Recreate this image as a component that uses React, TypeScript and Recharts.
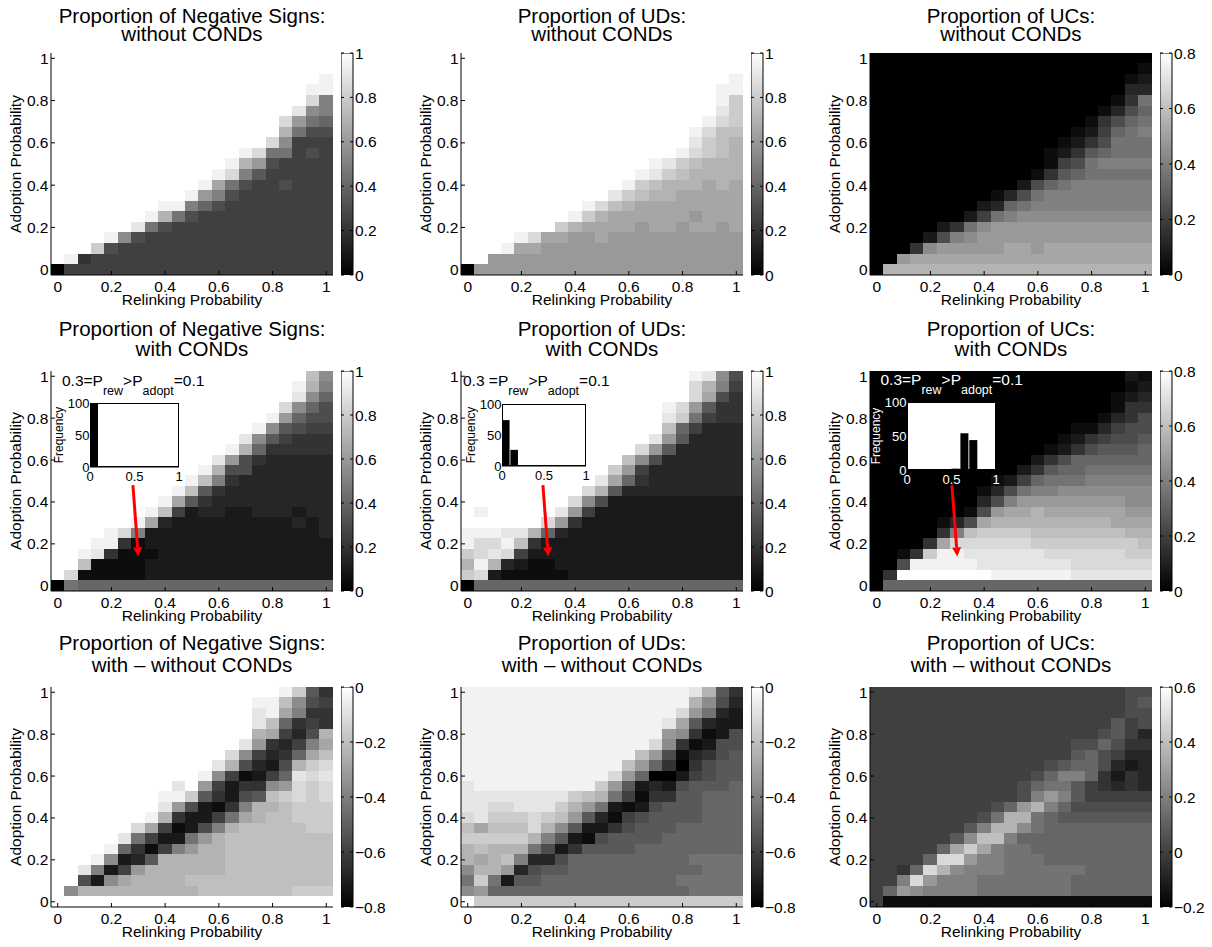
import React from "react";
import { ScatterChart, Scatter, XAxis, YAxis, BarChart, Bar } from "recharts";

const FONT = '"Liberation Sans", Arial, Helvetica, sans-serif';

// cell centres of the 21 x 21 parameter grid
const relinkingProb = [0, 0.05, 0.1, 0.15, 0.2, 0.25, 0.3, 0.35, 0.4, 0.45, 0.5, 0.55, 0.6, 0.65, 0.7, 0.75, 0.8, 0.85, 0.9, 0.95, 1];
// grid rows below run from the top row (1) down to 0
const adoptionProb = [1, 0.95, 0.9, 0.85, 0.8, 0.75, 0.7, 0.65, 0.6, 0.55, 0.5, 0.45, 0.4, 0.35, 0.3, 0.25, 0.2, 0.15, 0.1, 0.05, 0];
const axisTicks = [0, 0.2, 0.4, 0.6, 0.8, 1];
const cellDomain = [-0.025, 1.025];

// one char per cell, position in the colour range in twentieths ("0" = bottom, "K" = top)
const LEVELS = "0123456789ABCDEFGHIJK";

const negSignsWithout = [
  "KKKKK KKKKK KKKKK KKKKK K",
  "KKKKK KKKKK KKKKK KKKKK K",
  "KKKKK KKKKK KKKKK KKKKK J",
  "KKKKK KKKKK KKKKK KKKKJ J",
  "KKKKK KKKKK KKKKK KKKKH A",
  "KKKKK KKKKK KKKKK KKKIB A",
  "KKKKK KKKKK KKKKK KKHC9 8",
  "KKKKK KKKKK KKKKK KKE96 6",
  "KKKKK KKKKK KKKKK KHB55 5",
  "KKKKK KKKKK KKKKJ H9956 5",
  "KKKKK KKKKK KKKJE C6555 5",
  "KKKKK KKKKK KKJHA 75555 5",
  "KKKKK KKKKK KJD96 55655 5",
  "KKKKK KKKKK JCA65 55555 5",
  "KKKKK KKKJJ A8655 55555 5",
  "KKKKK KKJE9 65555 55555 5",
  "KKKKK KI965 55555 55555 5",
  "KKKKJ B6555 55555 55555 5",
  "KKKG6 55555 55555 55555 5",
  "KJ455 55555 55555 55555 5",
  "05555 55555 55555 55555 5",
];

const udWithout = [
  "KKKKK KKKKK KKKKK KKKKK K",
  "KKKKK KKKKK KKKKK KKKKK K",
  "KKKKK KKKKK KKKKK KKKKK J",
  "KKKKK KKKKK KKKKK KKKKJ J",
  "KKKKK KKKKK KKKKK KKKKJ G",
  "KKKKK KKKKK KKKKK KKKKI G",
  "KKKKK KKKKK KKKKK KKKJH G",
  "KKKKK KKKKK KKKKK KKJHF F",
  "KKKKK KKKKK KKKKK KKIGF E",
  "KKKKK KKKKK KKKKK KJHGF E",
  "KKKKK KKKKK KKKKJ IGFEE E",
  "KKKKK KKKKK KKKJI GFEEE E",
  "KKKKK KKKKK KKJGF EEEDE D",
  "KKKKK KKKKK KIGFE EDDDD D",
  "KKKKK KKKKJ HFEDD DDDDD D",
  "KKKKK KKKJG EDDDD DDCDD D",
  "KKKKK KKGED DDDCD DCDDC D",
  "KKKKJ HDDCC DCCCC CCCCC C",
  "KKKJD DCCCC CCCCC CCCCC C",
  "KKCCC CCCCC CCCCC CCCCC C",
  "0CCCC CCCCC CCCCC CCCCC C",
];

const ucWithout = [
  "00000 00000 00000 00000 0",
  "00000 00000 00000 00000 1",
  "00000 00000 00000 00001 2",
  "00000 00000 00000 00003 3",
  "00000 00000 00000 00014 9",
  "00000 00000 00000 00136 8",
  "00000 00000 00000 01468 9",
  "00000 00000 00000 12589 A",
  "00000 00000 00001 24699 9",
  "00000 00000 00012 47899 9",
  "00000 00000 00015 69AAA A",
  "00000 00000 00147 89999 9",
  "00000 00000 02689 AAAAA A",
  "00000 00001 369AA AAAAA A",
  "00000 00023 89AAA AAAAA A",
  "00000 00259 ABBBB BBBBB B",
  "00000 249BC CCCCC CCCCC C",
  "00002 6ABCC CCCCC CCCCC C",
  "0004B CCCCC DDCDD DDDDD D",
  "00CDD DDDDD DDDDD DDDDD D",
  "0EEEE EEEEE EEEEE EEEEE E",
];

const negSignsWith = [
  "KKKKK KKKKK KKKKK KKKKF B",
  "KKKKK KKKKK KKKKK KKKJE A",
  "KKKKK KKKKK KKKKK KKKIB 8",
  "KKKKK KKKKK KKKKK KKHB8 6",
  "KKKKK KKKKK KKKKK KJC86 6",
  "KKKKK KKKKK KKKKK JB765 5",
  "KKKKK KKKKK KKKKI B7544 4",
  "KKKKK KKKKK KKKJE 84444 4",
  "KKKKK KKKKK KKIC6 43333 3",
  "KKKKK KKKKK KJE66 33333 3",
  "KKKKK KKKKK JFA43 33333 3",
  "KKKKK KKKKJ F7433 33333 3",
  "KKKKK KKKJD 74333 33333 3",
  "KKKKK KKJF5 23322 33323 3",
  "KKKKK KJD32 22222 22232 3",
  "KKKKJ HA222 22222 22222 3",
  "KKKJJ 41222 22222 22222 2",
  "KKJI4 11122 22222 22222 2",
  "KKF11 11222 22222 22222 2",
  "KH111 11222 22222 22222 2",
  "09888 88888 88888 88888 8",
];

const udWith = [
  "KKKKK KKKKK KKKKK KKJIB 6",
  "KKKKK KKKKK KKKKK KKHEA 5",
  "KKKKK KKKKK KKKKK KKHD6 4",
  "KKKKK KKKKK KKKKK JHC74 4",
  "KKKKK KKKKK KKKKK IG954 4",
  "KKKKK KKKKK KKKKK F8533 3",
  "KKKKK KKKKK KKKKI C7333 3",
  "KKKKK KKKKK KKKHC 73333 3",
  "KKKKK KKKKK KKFB6 33333 3",
  "KKKKK KKKKK KGC53 33333 3",
  "KKKKK KKKKK ID843 33333 3",
  "KKKKK KKKKH E7333 33333 3",
  "KKKKK KKKHB 62222 22222 2",
  "KJKKK KKIC5 22222 22222 2",
  "KKKKK KHC42 22222 22222 2",
  "JJJII E8322 22222 22222 2",
  "JHHJF 42222 22222 22222 2",
  "GHIH5 22222 22222 22222 2",
  "EJE32 11222 22222 22222 2",
  "GH211 11122 22222 22222 2",
  "08888 88888 88888 88888 8",
];

const ucWith = [
  "00000 00000 00000 00002 1",
  "00000 00000 00000 00001 2",
  "00000 00000 00000 00012 3",
  "00000 00000 00000 00014 4",
  "00000 00000 00000 00134 6",
  "00000 00000 00000 11356 6",
  "00000 00000 00001 24566 7",
  "00000 00000 00012 46777 8",
  "00000 00000 00246 88888 8",
  "00000 00000 02478 89999 9",
  "00000 00001 25899 9AAAA A",
  "00000 00013 69AAB BBBBB B",
  "00000 00036 ACCCC CCCCB B",
  "00000 0016C DDEDD DDDDC C",
  "00000 136DE EEEEE EEEDD D",
  "00000 4AFGG GGFFF FFFFE E",
  "00004 DHHHH HHGGG GGGGG F",
  "0014G JJIII IIIHH HHHHG G",
  "006JJ JJJII IIIII HHHHH H",
  "04KKK KKKKJ JJJJJ IIIII I",
  "08888 88888 88888 88888 8",
];

const negSignsDiff = [
  "KKKKK KKKKK KKKKK KKJG7 4",
  "KKKKK KKKKK KKKKK JJFB6 5",
  "KKKKK KKKKK KKKKK IJDA4 4",
  "KKKKK KKKKK KKKKK IF845 4",
  "KKKKK KKKKK KKKKK ED536 E",
  "KKKKK KKKKK KKKKI C435A D",
  "KKKKK KKKKK KKKHB 5348D F",
  "KKKKK KKKKK KKIE6 326EG H",
  "KKKKK KKKKK KJB51 258IH I",
  "KKKKK KKKKI KC524 4BCHG H",
  "KKKKK KKKJJ G7426 7FGHG H",
  "KKKKK KKKIC 6214A EEFGG G",
  "KKKKK KKJE4 2259D EFFGG G",
  "KKKKK KHD51 26AEF FFFFG G",
  "KKKKK I9522 9CEFF FFFFF F",
  "KKKKJ 8415A CEEFF FFFFF F",
  "KKKJB 237EE EEEFF FFFFF F",
  "KKIA2 5CEEE EEEFF FFFFF F",
  "KK62B DEEEE FFFFF FFFFF F",
  "KBEEE EEEEE EFFFF FFFGG G",
  "KKKKK KKKKK KKKKK KKKKK K",
];

const udDiff = [
  "JJJJJ JJJJJ JJJJJ JJIE7 4",
  "JJJJJ JJJJJ JJJJJ JJEB6 3",
  "JJJJJ JJJJJ JJJJJ JHC93 2",
  "JJJJJ JJJJJ JJJJJ ID732 2",
  "JJJJJ JJJJJ JJJJJ CB412 6",
  "JJJJJ JJJJJ JJJJH B4126 6",
  "JJJJJ JJJJJ JJJFC 61346 7",
  "JJJJJ JJJJJ JJFC8 40467 7",
  "JJJJJ JJJJJ JHC80 02567 7",
  "IJJJJ JJJJJ GC723 26777 8",
  "IIIII IIIGF E9514 47788 8",
  "IIHHI IIGEC 92126 77788 8",
  "HIGGG HGFC7 31567 77788 8",
  "FDFFF HEB72 24677 78888 8",
  "GGGGG EA721 67777 88888 8",
  "EFEEE 96247 77788 88888 8",
  "EDEFA 33688 88888 88999 9",
  "BEEC3 67788 88888 88899 9",
  "9G927 78888 88888 89999 9",
  "BC888 88888 88888 88999 9",
  "KGGGG GGGGG GGGGG GGGGG G",
];

const ucDiff = [
  "55555 55555 55555 55556 6",
  "55555 55555 55555 55556 7",
  "55555 55555 55555 55556 6",
  "55555 55555 55555 55575 6",
  "55555 55555 55555 55675 3",
  "55555 55555 55555 66864 4",
  "55555 55555 55555 78653 3",
  "55555 55555 55567 88632 3",
  "55555 55555 5568A A8424 3",
  "55555 55555 56899 75434 3",
  "55555 55555 56ACA 75555 5",
  "55555 55556 8CEA8 66666 6",
  "55555 55569 EE987 77777 7",
  "55555 557AE EB988 88888 8",
  "55555 57BFF A8888 88888 8",
  "55555 8DGDA 99888 88888 8",
  "55558 HHCAA 99988 88888 8",
  "5548H EBAAA 99999 98888 8",
  "55AHC AAA99 99999 88888 8",
  "58CBA AAA99 99999 88888 8",
  "51111 11111 11111 11111 1",
];

const unitBarTicks = [0, 0.2, 0.4, 0.6, 0.8, 1];
const ucBarTicks = [0, 0.2, 0.4, 0.6, 0.8];
const diffBarTicks = [-0.8, -0.6, -0.4, -0.2, 0];
const ucDiffBarTicks = [-0.2, 0, 0.2, 0.4, 0.6];

// inset histograms for 0.3 = P_rew > P_adopt = 0.1
const histBins = [0.05, 0.15, 0.25, 0.35, 0.45, 0.55, 0.65, 0.75, 0.85, 0.95];
const negSignsHist = [100, 0, 0, 0, 0, 0, 0, 0, 0, 0];
const udHist = [74, 26, 0, 0, 0, 0, 0, 0, 0, 0];
const ucHist = [0, 0, 0, 0, 0, 2, 54, 44, 0, 0];
const histTicksX = [0, 0.5, 1];
const histTicksY = [0, 50, 100];
// red arrow from the inset down to the highlighted cell
const arrowFrom = { x: 0.28, y: 0.48 };
const arrowTo = [{ x: 0.3, y: 0.14 }];

// layout
const COL_LEFT = [51, 461, 870];
const ROW_TOP = [53, 371, 687];
const ROW_H = [222, 220, 220];
const TITLE_BASE = [[22.5, 40.5], [336, 356], [650, 671.5]];
const PLOT_W = 282;
const N = 21;
const CB_GAP = 8;
const CB_W = 12;
const TICK_FS = 15.5;

const panels = [
  { key: "a", col: 0, row: 0, grid: negSignsWithout, range: [0, 1], barTicks: unitBarTicks, title: ["Proportion of Negative Signs:", "without CONDs"] },
  { key: "b", col: 1, row: 0, grid: udWithout, range: [0, 1], barTicks: unitBarTicks, title: ["Proportion of UDs:", "without CONDs"] },
  { key: "c", col: 2, row: 0, grid: ucWithout, range: [0, 0.8], barTicks: ucBarTicks, title: ["Proportion of UCs:", "without CONDs"] },
  {
    key: "d", col: 0, row: 1, grid: negSignsWith, range: [0, 1], barTicks: unitBarTicks, title: ["Proportion of Negative Signs:", "with CONDs"],
    inset: { counts: negSignsHist, box: [90, 403, 89, 64], light: false, lead: "0.3=P", noteX: 62, noteY: 386 },
  },
  {
    key: "e", col: 1, row: 1, grid: udWith, range: [0, 1], barTicks: unitBarTicks, title: ["Proportion of UDs:", "with CONDs"],
    inset: { counts: udHist, box: [502, 404, 84, 62], light: false, lead: "0.3 =P", noteX: 463, noteY: 386 },
  },
  {
    key: "f", col: 2, row: 1, grid: ucWith, range: [0, 0.8], barTicks: ucBarTicks, title: ["Proportion of UCs:", "with CONDs"],
    inset: { counts: ucHist, box: [907, 402, 89, 68], light: true, lead: "0.3=P", noteX: 880.5, noteY: 385 },
  },
  { key: "g", col: 0, row: 2, grid: negSignsDiff, range: [-0.8, 0], barTicks: diffBarTicks, title: ["Proportion of Negative Signs:", "with \u2013 without CONDs"] },
  { key: "h", col: 1, row: 2, grid: udDiff, range: [-0.8, 0], barTicks: diffBarTicks, title: ["Proportion of UDs:", "with \u2013 without CONDs"] },
  { key: "i", col: 2, row: 2, grid: ucDiff, range: [-0.2, 0.6], barTicks: ucDiffBarTicks, title: ["Proportion of UCs:", "with \u2013 without CONDs"] },
];

const fmt = (v: number) => (v < 0 ? "\u2212" + String(-v) : String(v));

const BottomTick = ({ x, y, payload }: any) => (
  <g>
    <line x1={x} x2={x} y1={y} y2={y - 4} stroke="#000" />
    <text x={x} y={y + 16.5} textAnchor="middle" fontSize={TICK_FS} fontFamily={FONT} fill="#000">
      {fmt(payload.value)}
    </text>
  </g>
);
const TopTick = ({ x, y }: any) => <line x1={x} x2={x} y1={y} y2={y + 4} stroke="#000" />;
const LeftTick = ({ x, y, payload }: any) => (
  <g>
    <line x1={x} x2={x + 4} y1={y} y2={y} stroke="#000" />
    <text x={x - 2.5} y={y + 5.5} textAnchor="end" fontSize={TICK_FS} fontFamily={FONT} fill="#000">
      {fmt(payload.value)}
    </text>
  </g>
);
const RightTick = ({ x, y }: any) => <line x1={x} x2={x - 4} y1={y} y2={y} stroke="#000" />;

const Arrow = ({ x1, y1, x2, y2 }: any) => {
  const len = Math.hypot(x2 - x1, y2 - y1) || 1;
  const ux = (x2 - x1) / len;
  const uy = (y2 - y1) / len;
  const bx = x2 - ux * 9;
  const by = y2 - uy * 9;
  return (
    <g>
      <line x1={x1} y1={y1} x2={bx} y2={by} stroke="#f00" strokeWidth={3} />
      <polygon points={`${x2},${y2} ${bx - uy * 4.5},${by + ux * 4.5} ${bx + uy * 4.5},${by - ux * 4.5}`} fill="#f00" />
    </g>
  );
};

function HeatPanel({ p }: any) {
  const plotH = ROW_H[p.row];
  const cw = PLOT_W / N;
  const ch = plotH / N;
  const span = cellDomain[1] - cellDomain[0];
  const [lo, hi] = p.range;
  const cells: any[] = [];
  p.grid.forEach((line: string, r: number) => {
    const codes = line.replace(/ /g, "");
    for (let c = 0; c < N; c++) {
      const level = LEVELS.indexOf(codes[c]);
      cells.push({ x: relinkingProb[c], y: adoptionProb[r], value: lo + ((hi - lo) * level) / 20 });
    }
  });
  const grey = (v: number) => {
    const g = Math.round(((v - lo) / (hi - lo)) * 255);
    return `rgb(${g},${g},${g})`;
  };
  const ML = 60;
  const MT = 10;
  const MR = 10;
  const XH = 40;
  return (
    <div style={{ position: "absolute", left: COL_LEFT[p.col] - ML, top: ROW_TOP[p.row] - MT }}>
      <ScatterChart width={ML + PLOT_W + MR} height={MT + plotH + XH} margin={{ top: MT, right: MR, bottom: 0, left: 0 }}>
        <Scatter
          data={cells}
          isAnimationActive={false}
          shape={(s: any) => (
            <rect
              x={s.cx - cw / 2 - 0.3}
              y={s.cy - ch / 2 - 0.3}
              width={cw + 0.6}
              height={ch + 0.6}
              fill={grey(s.payload.value)}
              shapeRendering="crispEdges"
            />
          )}
        />
        {p.inset && (
          <Scatter
            data={arrowTo}
            isAnimationActive={false}
            shape={(s: any) => (
              <Arrow
                x1={s.cx + ((arrowFrom.x - s.payload.x) * PLOT_W) / span}
                y1={s.cy - ((arrowFrom.y - s.payload.y) * plotH) / span}
                x2={s.cx}
                y2={s.cy}
              />
            )}
          />
        )}
        <XAxis type="number" dataKey="x" domain={cellDomain} ticks={axisTicks} allowDataOverflow interval={0} height={XH} zIndex={900}
          tickSize={0} tickMargin={0} tickLine={false} axisLine={{ stroke: "#000" }} tick={(t: any) => <BottomTick {...t} />} />
        <XAxis xAxisId="top" orientation="top" type="number" dataKey="x" domain={cellDomain} ticks={axisTicks} allowDataOverflow interval={0} height={0} zIndex={900}
          tickSize={0} tickMargin={0} tickLine={false} axisLine={{ stroke: "#000" }} tick={(t: any) => <TopTick {...t} />} />
        <YAxis type="number" dataKey="y" domain={cellDomain} ticks={axisTicks} allowDataOverflow interval={0} width={ML} zIndex={900}
          tickSize={0} tickMargin={0} tickLine={false} axisLine={{ stroke: "#000" }} tick={(t: any) => <LeftTick {...t} />} />
        <YAxis yAxisId="right" orientation="right" type="number" dataKey="y" domain={cellDomain} ticks={axisTicks} allowDataOverflow interval={0} width={0} zIndex={900}
          tickSize={0} tickMargin={0} tickLine={false} axisLine={{ stroke: "#000" }} tick={(t: any) => <RightTick {...t} />} />
      </ScatterChart>
    </div>
  );
}

function ColourBar({ p }: any) {
  const [lo, hi] = p.range;
  const id = `cbar-${p.key}`;
  const plotH = ROW_H[p.row];
  const BarTick = ({ x, y, payload }: any) => (
    <g>
      <line x1={x} x2={x - 3} y1={y} y2={y} stroke="#000" />
      <line x1={x - CB_W} x2={x - CB_W + 3} y1={y} y2={y} stroke="#000" />
      <text x={x + 2} y={y + 5.5} fontSize={TICK_FS} fontFamily={FONT} fill="#000">
        {fmt(payload.value)}
      </text>
    </g>
  );
  return (
    <div style={{ position: "absolute", left: COL_LEFT[p.col] + PLOT_W + CB_GAP, top: ROW_TOP[p.row] - 10 }}>
      <BarChart width={CB_W + 44} height={plotH + 20} data={[{ name: "cb", span: [lo, hi] }]}
        margin={{ top: 10, bottom: 10, left: 0, right: 0 }} barCategoryGap={0}>
        <defs>
          <linearGradient id={id} x1="0" y1="1" x2="0" y2="0">
            <stop offset="0%" stopColor="#000" />
            <stop offset="100%" stopColor="#fff" />
          </linearGradient>
        </defs>
        <XAxis dataKey="name" hide height={0} />
        <YAxis orientation="right" type="number" domain={[lo, hi]} ticks={p.barTicks} allowDataOverflow interval={0} width={44} zIndex={900}
          tickSize={0} tickMargin={0} tickLine={false} axisLine={false} tick={(t: any) => <BarTick {...t} />} />
        <Bar dataKey="span" fill={`url(#${id})`} stroke="#000" strokeWidth={1} isAnimationActive={false} />
      </BarChart>
    </div>
  );
}

function Inset({ p }: any) {
  const { counts, box, light } = p.inset;
  const [left, top, w, h] = box;
  const ink = light ? "#fff" : "#000";
  const data = histBins.map((b, i) => ({ bin: b, count: counts[i] }));
  const XT = ({ x, y, payload }: any) => (
    <text x={x} y={y + 14} textAnchor="middle" fontSize={13} fontFamily={FONT} fill={ink}>{payload.value}</text>
  );
  const YT = ({ x, y, payload }: any) => (
    <text x={x - 0.5} y={y + 5} textAnchor="end" fontSize={13} fontFamily={FONT} fill={ink}>{payload.value}</text>
  );
  return (
    <>
      <div style={{ position: "absolute", left, top, width: w, height: h, background: "#fff", boxSizing: "border-box", border: "1px solid #000" }} />
      <div style={{ position: "absolute", left: left - 30, top: top - 8 }}>
        <BarChart width={30 + w + 10} height={8 + h + 20} data={data} margin={{ top: 8, right: 10, left: 0, bottom: 0 }}>
          <XAxis type="number" dataKey="bin" domain={[0, 1]} ticks={histTicksX} allowDataOverflow interval={0} height={20}
            tickSize={0} tickMargin={0} tickLine={false} axisLine={{ stroke: "#000", strokeWidth: light ? 2 : 1 }} tick={(t: any) => <XT {...t} />} />
          <YAxis type="number" domain={[0, 100]} ticks={histTicksY} allowDataOverflow interval={0} width={30}
            tickSize={0} tickMargin={0} tickLine={false} axisLine={false} tick={(t: any) => <YT {...t} />} />
          <Bar dataKey="count" fill="#000" barSize={w / 10} isAnimationActive={false} />
        </BarChart>
      </div>
    </>
  );
}

function TextLayer() {
  return (
    <svg width={1212} height={947} style={{ position: "absolute", left: 0, top: 0, pointerEvents: "none" }} fontFamily={FONT}>
      {panels.map((p) => {
        const cx = COL_LEFT[p.col] + PLOT_W / 2;
        const top = ROW_TOP[p.row];
        const plotH = ROW_H[p.row];
        const [b1, b2] = TITLE_BASE[p.row];
        const yMid = top + plotH / 2;
        const ylx = COL_LEFT[p.col] - 30;
        return (
          <g key={p.key}>
            <text x={cx} y={b1} textAnchor="middle" fontSize={20.5} fill="#000">{p.title[0]}</text>
            <text x={cx} y={b2} textAnchor="middle" fontSize={20.5} fill="#000">{p.title[1]}</text>
            <text x={cx} y={top + plotH + 30} textAnchor="middle" fontSize={TICK_FS} fill="#000">Relinking Probability</text>
            <text x={ylx} y={yMid} textAnchor="middle" fontSize={TICK_FS} fill="#000" transform={`rotate(-90, ${ylx}, ${yMid})`}>
              Adoption Probability
            </text>
            {p.inset && (() => {
              const [bl, bt, , bh] = p.inset.box;
              const ink = p.inset.light ? "#fff" : "#000";
              const fx = bl - 27;
              const fy = bt + bh / 2;
              return (
                <g>
                  <text x={fx} y={fy} textAnchor="middle" fontSize={12} fill={ink} transform={`rotate(-90, ${fx}, ${fy})`}>Frequency</text>
                  <text x={p.inset.noteX} y={p.inset.noteY} fontSize={15.5} fill={ink}>
                    {p.inset.lead}
                    <tspan fontSize={12.5} dy={9}>rew</tspan>
                    <tspan fontSize={15.5} dy={-9}>{">P"}</tspan>
                    <tspan fontSize={12.5} dy={9}>adopt</tspan>
                    <tspan fontSize={15.5} dy={-9}>=0.1</tspan>
                  </text>
                </g>
              );
            })()}
          </g>
        );
      })}
    </svg>
  );
}

export default function App() {
  return (
    <div style={{ position: "absolute", left: 0, top: 0, width: 1212, height: 947, background: "#fff", fontFamily: FONT }}>
      {panels.map((p) => (
        <HeatPanel key={`h-${p.key}`} p={p} />
      ))}
      {panels.map((p) => (
        <ColourBar key={`c-${p.key}`} p={p} />
      ))}
      {panels.filter((p) => p.inset).map((p) => (
        <Inset key={`i-${p.key}`} p={p} />
      ))}
      <TextLayer />
    </div>
  );
}
